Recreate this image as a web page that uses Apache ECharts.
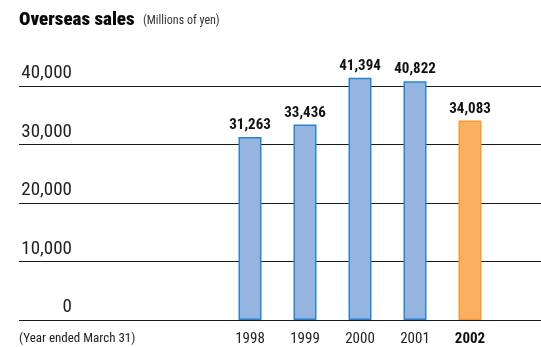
<!DOCTYPE html>
<html>
<head>
<meta charset="utf-8">
<script src="https://cdn.jsdelivr.net/npm/echarts@6/dist/echarts.min.js"></script>
<style>
  html, body { margin: 0; padding: 0; background: #fff; }
  #chart { width: 541px; height: 347px; }
</style>
</head>
<body>
<div id="chart"></div>
<script>
// Overseas sales, fiscal years ended March 31 (millions of yen)
const years = ['1998', '1999', '2000', '2001', '2002'];
const sales = [31263, 33436, 41394, 40822, 34083];
const yTicks = { min: 0, max: 40000, step: 10000 };

const FONT = '"Roboto Condensed", "Liberation Sans Narrow", sans-serif';
const BLUE_FILL = '#95b5e0';
const BLUE_EDGE = '#2a84cf';
const ORANGE_FILL = '#fbb05f';
const ORANGE_EDGE = '#f79a34';

const chart = echarts.init(document.getElementById('chart'), null, { renderer: 'canvas' });

const lastIdx = years.length - 1;

chart.setOption({
  animation: false,
  backgroundColor: '#ffffff',
  graphic: [
    {
      type: 'text', left: 19, top: 11,
      style: { text: 'Overseas sales', font: '900 19px ' + FONT, fill: '#0a0a0a' }
    },
    {
      type: 'text', left: 143, top: 15,
      style: { text: '(Millions of yen)', font: '12px ' + FONT, fill: '#333' }
    },
    {
      type: 'text', left: 19, top: 332,
      style: { text: '(Year ended March 31)', font: '13px ' + FONT, fill: '#222' }
    }
  ],
  grid: [
    // value grid: horizontal rules spanning the whole width
    { left: 19, right: 0, top: 86, bottom: 27, containLabel: false },
    // bar grid: category band for the five years
    { left: 222.5, width: 275, top: 86, bottom: 27, containLabel: false }
  ],
  xAxis: [
    {
      gridIndex: 0, type: 'value', min: 0, max: 1,
      axisLine: { show: false }, axisTick: { show: false },
      axisLabel: { show: false }, splitLine: { show: false }
    },
    {
      gridIndex: 1, type: 'category', data: years,
      axisLine: { show: false }, axisTick: { show: false },
      axisLabel: {
        interval: 0,
        margin: 12,
        fontFamily: FONT, fontSize: 15, color: '#222',
        formatter: (v, i) => i === lastIdx ? '{b|' + v + '}' : v,
        rich: { b: { fontFamily: FONT, fontSize: 15, fontWeight: 'bold', color: '#111' } }
      }
    }
  ],
  yAxis: [
    {
      gridIndex: 0, type: 'value',
      min: yTicks.min, max: yTicks.max, interval: yTicks.step,
      axisLine: { show: false }, axisTick: { show: false },
      axisLabel: {
        margin: -53, align: 'right', verticalAlign: 'bottom',
        padding: [0, 0, 3, 0],
        fontFamily: FONT, fontSize: 19, color: '#222',
        formatter: v => v.toLocaleString('en-US')
      },
      splitLine: { show: true, lineStyle: { color: '#1a1a1a', width: 1 } }
    },
    {
      gridIndex: 1, type: 'value',
      min: yTicks.min, max: yTicks.max, interval: yTicks.step,
      show: false
    }
  ],
  series: [
    {
      type: 'bar',
      xAxisIndex: 1, yAxisIndex: 1,
      barWidth: 23,
      clip: false,
      data: sales.map((v, i) => ({
        value: v,
        itemStyle: i === lastIdx
          ? { color: ORANGE_FILL, borderColor: ORANGE_EDGE, borderWidth: 1.5 }
          : { color: BLUE_FILL, borderColor: BLUE_EDGE, borderWidth: 1.5 }
      })),
      label: {
        show: true, position: 'top', distance: 4,
        fontFamily: FONT, fontSize: 15, fontWeight: 'bold', color: '#111',
        formatter: p => p.value.toLocaleString('en-US')
      },
      z: 3
    }
  ]
});
</script>
</body>
</html>
